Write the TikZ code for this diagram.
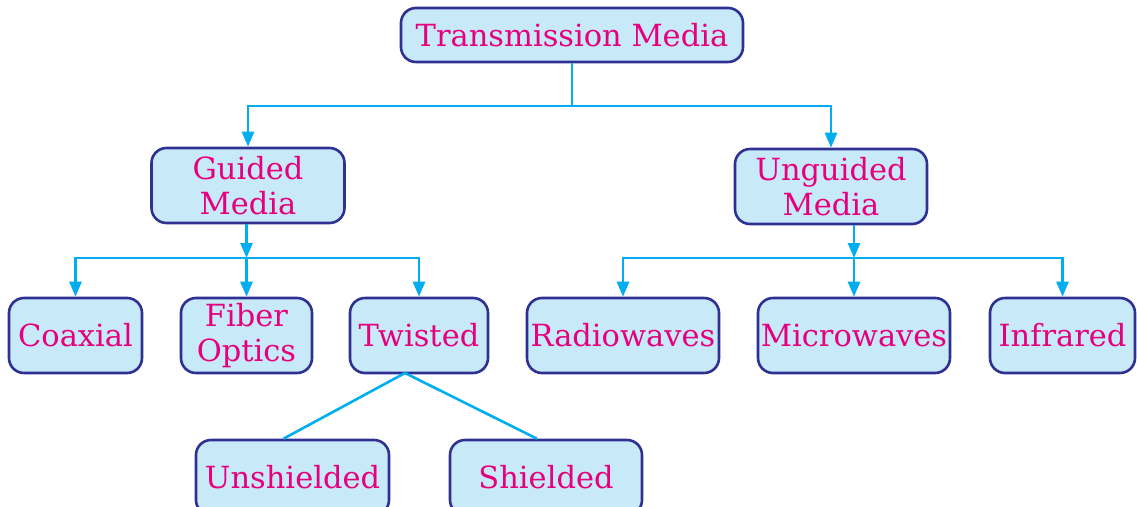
\documentclass[tikz,border=0pt]{standalone}
\usepackage{fontspec}
\setmainfont{DejaVu Serif}
\usetikzlibrary{arrows.meta}
\definecolor{boxfill}{RGB}{200,234,248}
\definecolor{boxdraw}{RGB}{46,49,146}
\definecolor{txtc}{RGB}{230,0,126}
\definecolor{wirec}{RGB}{0,174,239}
\begin{document}
\begin{tikzpicture}[x=1pt,y=-1pt,
  box/.style={draw=boxdraw, fill=boxfill, line width=2.6pt, rounded corners=15pt,
    text=txtc, font=\fontsize{30.5}{35}\selectfont, align=center, inner sep=0pt},
  wire/.style={draw=wirec, line width=2.6pt},
  arr/.style={wire, -{Triangle[width=12pt,length=15pt]}}]
\useasboundingbox (0,0) rectangle (1137,506);
% nodes
\node[box, minimum width=342pt, minimum height=54pt] (tm) at (572,35) {Transmission Media};
\node[box, minimum width=193pt, minimum height=75pt] (gm) at (248,185.5) {Guided\\Media};
\node[box, minimum width=192pt, minimum height=75pt] (um) at (831,186.5) {Unguided\\Media};
\node[box, minimum width=133pt, minimum height=75pt] (co) at (75.5,335.5) {Coaxial};
\node[box, minimum width=131pt, minimum height=75pt] (fo) at (246.5,335.5) {Fiber\\Optics};
\node[box, minimum width=138pt, minimum height=75pt] (tw) at (419,335.5) {Twisted};
\node[box, minimum width=192pt, minimum height=75pt] (rw) at (623,335.5) {Radiowaves};
\node[box, minimum width=192pt, minimum height=75pt] (mw) at (854,335.5) {Microwaves};
\node[box, minimum width=145pt, minimum height=75pt] (ir) at (1062.5,335.5) {Infrared};
\node[box, minimum width=193pt, minimum height=75pt] (us) at (292.5,477.5) {Unshielded};
\node[box, minimum width=192pt, minimum height=75pt] (sh) at (546,477.5) {Shielded};
% bus coordinates
\coordinate (b1) at (572,106);
\coordinate (b2) at (246.5,258);
\coordinate (b3) at (854,258);
\coordinate (tb) at (405,373);
% connectors
\draw[wire] (tm.south) -- (b1);
\draw[arr] (b1) -| (gm.north);
\draw[arr] (b1) -| (um.north);
\draw[arr] (gm.south -| fo.north) -- (b2);
\draw[arr] (b2) -| (co.north);
\draw[arr] (b2) -- (fo.north);
\draw[arr] (b2) -| (tw.north);
\draw[arr] (um.south -| mw.north) -- (b3);
\draw[arr] (b3) -| (rw.north);
\draw[arr] (b3) -- (mw.north);
\draw[arr] (b3) -| (ir.north);
\draw[wire] (tb) -- ([xshift=-9pt]us.north);
\draw[wire] (tb) -- ([xshift=-9pt]sh.north);
\end{tikzpicture}
\end{document}
